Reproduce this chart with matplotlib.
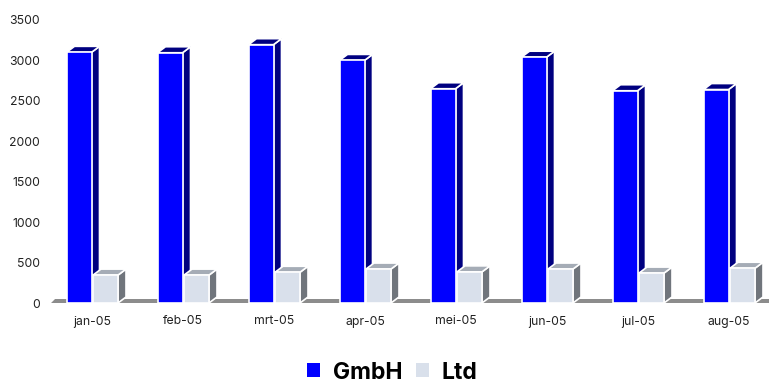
import matplotlib
matplotlib.use('Agg')
import matplotlib.pyplot as plt
from matplotlib.patches import Patch, Polygon, Rectangle

months = ['jan-05', 'feb-05', 'mrt-05', 'apr-05', 'mei-05', 'jun-05', 'jul-05', 'aug-05']
gmbh = [3100, 3095, 3195, 3000, 2650, 3040, 2625, 2640]
ltd = [345, 345, 380, 420, 385, 420, 370, 430]
yticks = [0, 500, 1000, 1500, 2000, 2500, 3000, 3500]

W, H = 769, 382
plt.rcParams['font.family'] = ['Inter', 'DejaVu Sans']

fig = plt.figure(figsize=(W / 100, H / 100), dpi=100)
# one x unit is one month group, 91 px wide; y runs 0-3500 over 283 px
ax = fig.add_axes([46.5 / W, (H - 303) / H, 728 / W, 283 / H])
ax.set_xlim(-0.5, 7.5)
ax.set_ylim(0, 3500)

px_x = 1 / 91
px_y = 3500 / 283
depth_x = 8 * px_x
depth_y = 6 * px_y
bar_w = 25 * px_x


def bar3d(x, val, front, top, side):
    # side and top first, the front face goes over them
    ax.add_patch(Polygon([(x + bar_w, 0), (x + bar_w + depth_x, depth_y),
                          (x + bar_w + depth_x, val + depth_y), (x + bar_w, val)],
                         fc=side, ec='white', lw=1.2, clip_on=False, zorder=3))
    ax.add_patch(Polygon([(x, val), (x + depth_x, val + depth_y),
                          (x + bar_w + depth_x, val + depth_y), (x + bar_w, val)],
                         fc=top, ec='white', lw=1.2, clip_on=False, zorder=3))
    ax.add_patch(Rectangle((x, 0), bar_w, val, fc=front, ec='white', lw=1.2,
                           clip_on=False, zorder=4))


# grey floor behind the bars
ax.add_patch(Polygon([(-0.45, 0), (-0.45 + 4 * px_x, 4 * px_y), (7.6, 4 * px_y), (7.6, 0)],
                     fc='#8c8c8c', ec='none', clip_on=False, zorder=1))

for i in range(len(months)):
    bar3d(i - 25.5 * px_x, gmbh[i], '#0000ff', '#000080', '#000080')
    bar3d(i + 1 * px_x, ltd[i], '#d9e0eb', '#a5acb6', '#70757c')

ax.set_xticks(range(len(months)))
ax.set_xticklabels(months)
ax.set_yticks(yticks)
ax.tick_params(length=0, labelsize=8.8, labelcolor='#222222')
ax.tick_params(axis='x', pad=9)
ax.tick_params(axis='y', pad=4.5)
for s in ax.spines.values():
    s.set_visible(False)

handles = [Patch(fc='#0000ff', ec='none', label='GmbH'), Patch(fc='#d9e0eb', ec='none', label='Ltd')]
fig.legend(handles=handles, loc='lower center', bbox_to_anchor=(392 / W, -0.004), ncols=2, frameon=False,
           prop={'weight': 'bold', 'size': 16.5}, handlelength=0.57, handleheight=0.57,
           handletextpad=0.55, columnspacing=0.6, borderpad=0, borderaxespad=0)

fig.savefig('out.png', dpi=100)
